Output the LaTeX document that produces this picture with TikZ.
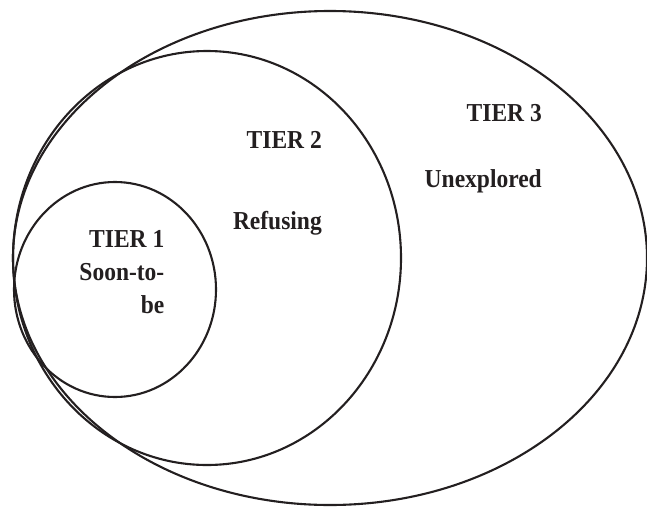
\documentclass[tikz,border=0pt]{standalone}
\usepackage{fontspec}
\setmainfont{Liberation Serif}
\usepackage{graphicx}
\usetikzlibrary{shapes.geometric}
\definecolor{ink}{RGB}{35,31,32}
\newcommand{\tierlbl}[1]{\scalebox{1}[1.1]{#1}}
\begin{document}
\begin{tikzpicture}[x=1pt,y=-1pt,
  ring/.style={draw=ink, line width=2.1pt, ellipse, inner sep=0pt},
  lbl/.style={anchor=base east, inner sep=0pt, text=ink,
    font=\fontsize{23.5}{28}\selectfont\bfseries}]
\useasboundingbox (0,0) rectangle (647,506);
\node[ring, minimum width=634pt, minimum height=494pt] (tier3) at (330,258) {};
\node[ring, minimum width=388pt, minimum height=414pt] (tier2) at (207,258) {};
\node[ring, minimum width=202pt, minimum height=215pt] (tier1) at (115,289.5) {};
\node[lbl] (t1a) at (164.5,247) {\tierlbl{TIER 1}};
\node[lbl] (t1b) at (164.5,280) {\tierlbl{Soon-to-}};
\node[lbl] (t1c) at (164.5,313) {\tierlbl{be}};
\node[lbl] (t2a) at (322,148) {\tierlbl{TIER 2}};
\node[lbl] (t2b) at (322,229) {\tierlbl{Refusing}};
\node[lbl] (t3a) at (542,121) {\tierlbl{TIER 3}};
\node[lbl] (t3b) at (542,187) {\tierlbl{Unexplored}};
\end{tikzpicture}
\end{document}
